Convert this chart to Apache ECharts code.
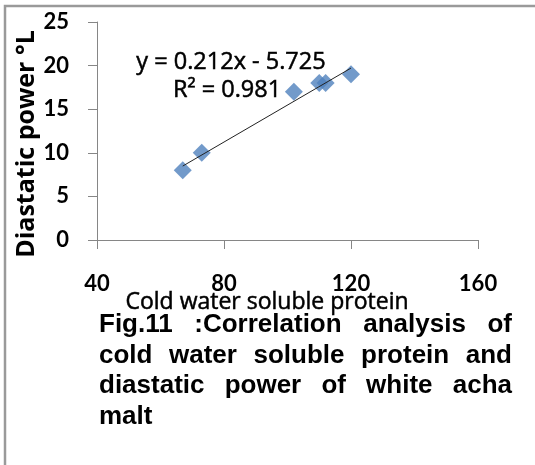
<!DOCTYPE html>
<html>
<head>
    <meta charset='utf-8'>
    <script src="https://cdn.jsdelivr.net/npm/echarts@6/dist/echarts.min.js"></script>
</head>
<body>
<style>
    html, body, #main {
        width: 100%;
        height: 100%;
        margin: 0;
        padding: 0;
        background: #fff;
    }
</style>
<div id="main"></div>
<script>
    // values
    var proteinValues = [67, 73, 102, 110, 112, 120];
    var diastaticValues = [8, 10, 17, 18, 18, 19];
    var trendSlope = 0.212;
    var trendIntercept = -5.725;
    var equationText = 'y = 0.212x - 5.725';
    var rSquaredText = 'R\u00b2 = 0.981';
    var captionLines = [
        'Fig.11 :Correlation analysis of',
        'cold water soluble protein and',
        'diastatic power of white acha',
        'malt'
    ];

    var chart = echarts.init(document.getElementById('main'));

    var points = proteinValues.map(function (x, i) {
        return [x, diastaticValues[i]];
    });
    var xMin = Math.min.apply(null, proteinValues);
    var xMax = Math.max.apply(null, proteinValues);
    var trend = [
        [xMin, trendSlope * xMin + trendIntercept],
        [xMax, trendSlope * xMax + trendIntercept]
    ];

    // justified caption, word by word
    var capFont = 'bold 26px "Liberation Sans"';
    var capLeft = 99, capRight = 512, capTop = 325, capStep = 30.5;
    var ctx = document.createElement('canvas').getContext('2d');
    ctx.font = capFont;
    var captionEls = [];
    captionLines.forEach(function (line, li) {
        var words = line.split(' ');
        var widths = words.map(function (w) { return ctx.measureText(w).width; });
        var total = widths.reduce(function (a, b) { return a + b; }, 0);
        var last = li === captionLines.length - 1;
        var gap = (last || words.length < 2) ? ctx.measureText(' ').width
            : (capRight - capLeft - total) / (words.length - 1);
        var x = capLeft;
        words.forEach(function (w, wi) {
            captionEls.push({
                type: 'text',
                x: x,
                y: capTop + li * capStep,
                style: {
                    text: w,
                    font: capFont,
                    fill: '#000',
                    verticalAlign: 'middle'
                }
            });
            x += widths[wi] + gap;
        });
    });

    // slightly heavier than regular, like the original
    function plainText(text, x, y, size) {
        return {
            type: 'text',
            x: x,
            y: y,
            style: {
                text: text,
                font: size + 'px "Open Sans"',
                fill: '#000',
                stroke: '#000',
                lineWidth: 0.5,
                align: 'center',
                verticalAlign: 'middle'
            }
        };
    }

    var option = {
        backgroundColor: '#fff',
        animation: false,
        grid: {
            left: 97,
            top: 22,
            right: 57,
            bottom: 225
        },
        xAxis: {
            type: 'value',
            min: 40,
            max: 160,
            interval: 40,
            splitLine: {show: false},
            axisLine: {onZero: false, lineStyle: {color: '#868686', width: 1}},
            axisTick: {show: true, length: 9, lineStyle: {color: '#868686'}},
            axisLabel: {
                margin: 33,
                color: '#000',
                fontFamily: 'Lato',
                fontWeight: 'bold',
                fontSize: 22
            }
        },
        yAxis: {
            type: 'value',
            min: 0,
            max: 25,
            interval: 5,
            splitLine: {show: false},
            axisLine: {show: true, lineStyle: {color: '#868686', width: 1}},
            axisTick: {show: true, length: 9, lineStyle: {color: '#868686'}},
            axisLabel: {
                margin: 28,
                color: '#000',
                fontFamily: 'Lato',
                fontWeight: 'bold',
                fontSize: 22
            }
        },
        series: [{
            type: 'scatter',
            data: points,
            symbol: 'diamond',
            symbolSize: [18, 18],
            itemStyle: {color: '#4F81BD'}
        }, {
            type: 'line',
            data: trend,
            symbol: 'none',
            lineStyle: {color: '#222', width: 1},
            z: 3
        }],
        graphic: [{
            type: 'rect',
            shape: {x: 5, y: 6, width: 700, height: 700},
            style: {fill: 'none', stroke: '#9a9a9a', lineWidth: 2.5},
            silent: true
        }, {
            type: 'text',
            x: 27,
            y: 144,
            rotation: Math.PI / 2,
            style: {
                text: 'Diastatic power \u00b0L',
                font: 'bold 25px "Open Sans"',
                fill: '#000',
                align: 'center',
                verticalAlign: 'middle'
            }
        },
            plainText('Cold water soluble protein', 267, 302, 23),
            plainText(equationText, 231, 62, 23.5),
            plainText(rSquaredText, 227, 90, 23.5)
        ].concat(captionEls)
    };

    chart.setOption(option);
</script>
</body>
</html>
